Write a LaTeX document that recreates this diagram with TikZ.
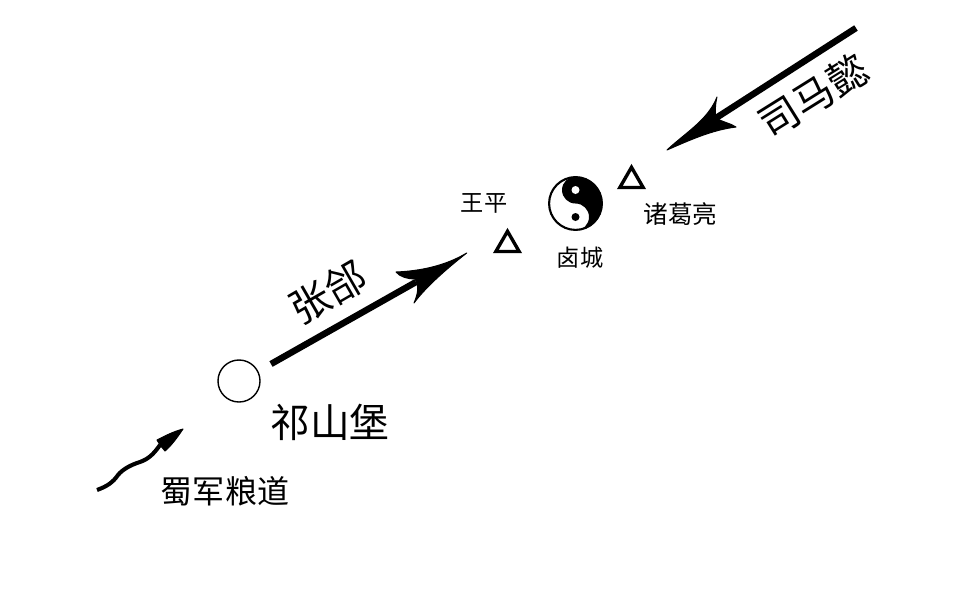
\documentclass[tikz,border=0pt]{standalone}
\usepackage{fontspec}
\setmainfont{Noto Sans CJK SC}
\usetikzlibrary{shapes.geometric}
\tikzset{
	camp/.style={draw,line width=2.4pt,regular polygon,regular polygon sides=3,minimum size=0.675cm,inner sep=0pt},
	shaft/.style={line width=4.6pt},
	head/.style={fill=black,draw=black,line width=0.7pt,line join=round},
	small/.style={font=\fontsize{16.5pt}{18pt}\selectfont,inner sep=0pt},
	general/.style={font=\fontsize{17.5pt}{19pt}\selectfont,inner sep=0pt},
	middle/.style={font=\fontsize{22.8pt}{24pt}\selectfont,inner sep=0pt},
	large/.style={font=\fontsize{28.5pt}{30pt}\selectfont,inner sep=0pt},
	castletext/.style={font=\fontsize{28.2pt}{30pt}\selectfont,inner sep=0pt}
}
\begin{document}
\begin{tikzpicture}[x=0.025cm,y=-0.025cm]
	\useasboundingbox (0,0) rectangle (960,600);
	% Castle
	\node[draw,circle,line width=1pt,minimum size=1.05cm,inner sep=0pt] (castle) at (239,381) {};
	\node[castletext] (castlename) at (330,422) {祁山堡};
	% Grain road
	\coordinate (roadstart) at (97,490);
	\coordinate (roadend) at (160,445);
	\coordinate (roadtip) at (183,429);
	\draw[line width=2.9pt] (roadstart) .. controls (108,486) and (113,482) .. (118,475)
		.. controls (122,470) and (130,465) .. (140,462)
		.. controls (148,459) and (153,455) .. (roadend);
	\path[head] (roadtip) .. controls (172,432) and (165,436) .. (157,440)
		-- (roadend) -- (165,451) .. controls (171,446) and (177,438) .. (roadtip) -- cycle;
	\node[middle] (roadname) at (225,491) {蜀军粮道};
	% Zhang He
	\coordinate (zhangstart) at (271,364);
	\coordinate (zhangend) at (416,282);
	\coordinate (zhangtip) at (466.7,253);
	\draw[shaft] (zhangstart) -- (zhangend);
	\path[head] (zhangtip) .. controls (445,266) and (420,271) .. (396,272)
		.. controls (400,277) and (408,279) .. (415,279)
		.. controls (420,287) and (417,296) .. (414,303)
		.. controls (425,288) and (445,270) .. (zhangtip) -- cycle;
	\node[large,rotate=30] (zhangname) at (328,292) {张郃};
	% Sima Yi
	\coordinate (simastart) at (856,28);
	\coordinate (simaend) at (716,118);
	\coordinate (simatip) at (667,150);
	\draw[shaft] (simastart) -- (simaend);
	\path[head] (simatip) .. controls (685,133) and (708,120) .. (717,97)
		.. controls (715,105) and (715,112) .. (simaend)
		.. controls (722,122) and (730,123) .. (736,127)
		.. controls (712,130) and (690,140) .. (simatip) -- cycle;
	\node[large,rotate=32] (simaname) at (813,96) {司马懿};
	% City
	\node[draw,circle,line width=1.5pt,minimum size=1.32cm,inner sep=0pt] (city) at (575.5,203.5) {};
	\fill (575.5,176.5) arc[start angle=-90,end angle=90,radius=27]
		arc[start angle=90,end angle=-90,radius=13.5]
		arc[start angle=90,end angle=270,radius=13.5];
	\fill[white] (575.5,190) circle (4);
	\fill (575.5,217) circle (4);
	\node[small] (cityname) at (580,258) {卤城};
	% Camps
	\node[camp] (wangcamp) at (507.5,244.8) {};
	\node[small] (wangname) at (484,203) {王平};
	\node[camp] (zhugecamp) at (631.5,180.8) {};
	\node[general] (zhugename) at (680.5,214) {诸葛亮};
\end{tikzpicture}
\end{document}
